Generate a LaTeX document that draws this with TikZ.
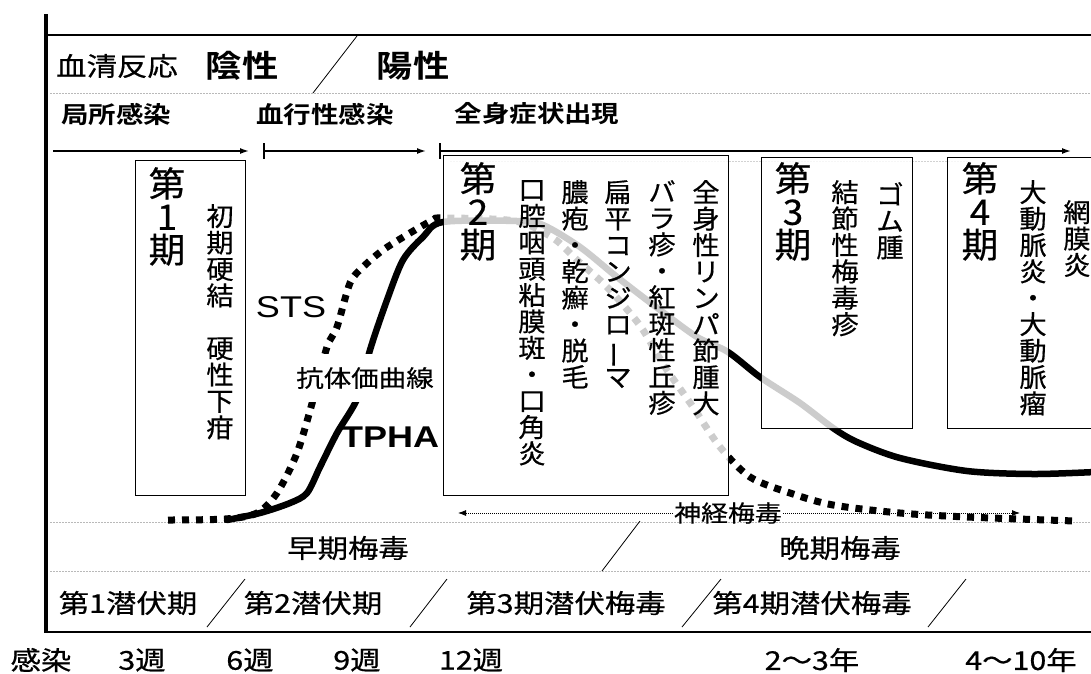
\documentclass[tikz,border=0pt]{standalone}
\usepackage{fontspec}
\usepackage{graphicx}
\usetikzlibrary{arrows.meta}
\setmainfont{Liberation Sans}
\newfontfamily\jp{Noto Sans CJK JP}[FakeStretch=1.17, FakeBold=0.5]
\newfontfamily\jpb{Noto Sans CJK JP Bold}[FakeStretch=1.17]
\newfontfamily\jpv{Noto Sans CJK JP}[FakeStretch=1.05, FakeBold=0.5]
\newfontfamily\lat{Liberation Sans}[FakeStretch=1.2]
\newcommand{\vbar}{\rotatebox[origin=c]{90}{ー}}
\begin{document}
\begin{tikzpicture}[x=1pt,y=-1pt,
  lbl/.style={inner sep=0pt, font=\jp\fontsize{26}{28}\selectfont},
  head/.style={inner sep=0pt, font=\jpb\fontsize{23.5}{26}\selectfont},
  sero/.style={inner sep=0pt, font=\jpb\fontsize{31}{33}\selectfont},
  vt/.style={inner sep=0pt, anchor=north, align=center, font=\jpv\fontsize{26}{26.4}\selectfont},
  big/.style={inner sep=0pt, anchor=north, align=center, font=\jpv\fontsize{35}{33}\selectfont},
  stagebox/.style={draw, line width=1.1pt, fill=white, fill opacity=0.8, anchor=north west, inner sep=0pt},
  gline/.style={gray!55, line width=0.6pt, dash pattern=on 2pt off 1pt},
  stsline/.style={line width=7pt, dash pattern=on 7pt off 7pt},
  tphaline/.style={line width=6.5pt, line cap=round},
  phase/.style={line width=1.5pt, -{Latex[length=9pt,width=6pt]}},
  nerve/.style={line width=0.8pt, dash pattern=on 1pt off 1pt, -{Latex[length=8pt,width=6pt]}},
  slash/.style={line width=0.8pt}
]
\useasboundingbox[fill=white] (0,0) rectangle (1091,673);

% frame
\draw[line width=4pt] (46,14) -- (46,632);
\draw[line width=2pt] (46,35) -- (1091,35);
\draw[line width=2.5pt] (44,632) -- (1091,632);

% faint guide lines
\draw[gline] (50,93) -- (1091,93);
\draw[gline, gray!35] (450,161) -- (970,161);
\draw[gline] (50,522) -- (1091,522);
\draw[gline] (50,571) -- (1091,571);

% serum row
\node[lbl] (serum) at (117,66) {血清反応};
\node[sero] (neg) at (242,66) {陰性};
\node[sero] (pos) at (413,66) {陽性};
\coordinate (s1a) at (357,36);
\coordinate (s1b) at (313,93);
\draw[slash] (s1a) -- (s1b);

% infection phases
\node[head] (local) at (116,114) {局所感染};
\node[head] (blood) at (325,114) {血行性感染};
\node[head] (whole) at (537,114) {全身症状出現};
\coordinate (a0) at (53,151);
\coordinate (a1) at (249,151);
\coordinate (a2s) at (265,151);
\coordinate (a2e) at (426,151);
\coordinate (a3s) at (441,151);
\coordinate (a3e) at (1071,151);
\coordinate (t1a) at (264,143); \coordinate (t1b) at (264,159);
\coordinate (t2a) at (440,143); \coordinate (t2b) at (440,159);
\draw[phase] (a0) -- (a1);
\draw[phase] (a2s) -- (a2e);
\draw[phase] (a3s) -- (a3e);
\draw[line width=1.2pt] (t1a) -- (t1b);
\draw[line width=1.2pt] (t2a) -- (t2b);

% curves
\draw[tphaline] plot[smooth, tension=0.5] coordinates {
 (227,520) (260,513) (290,503) (307,493) (320,467) (337,433) (358,397)
 (370,350) (387,300) (403,260) (423,237) (443,222) (517,221) (543,225)
 (580,247) (617,277) (660,310) (697,337) (728,352) (760,377) (800,403)
 (833,428) (857,442) (900,458) (967,471) (1033,474) (1095,472)};
\draw[stsline] plot[smooth, tension=0.5] coordinates {
 (168,520) (225,519) (257,513) (277,493) (297,453) (313,400) (327,347)
 (337,327) (350,283) (363,267) (383,250) (410,233) (433,220) (443,218)
 (515,221) (553,238) (577,260) (603,283) (625,307) (643,330) (665,367)
 (693,407) (720,447) (750,477) (790,493) (833,505) (900,513) (967,517)
 (1075,521)};

% stage boxes
\node[stagebox, minimum width=110pt, minimum height=335pt] (b1) at (135,160) {};
\node[stagebox, minimum width=285pt, minimum height=340pt] (b2) at (443,155) {};
\node[stagebox, minimum width=151pt, minimum height=271pt] (b3) at (761,157) {};
\node[stagebox, minimum width=170pt, minimum height=271pt] (b4) at (947,157) {};

% stage 1
\node[big] (p1) at (167,167) {第\\1\\期};
\node[vt] (p1a) at (220,204) {初\\期\\硬\\結\\　\\硬\\性\\下\\疳};
% stage 2
\node[big] (p2) at (478,162) {第\\2\\期};
\node[vt] (p2a) at (706,180) {全\\身\\性\\リ\\ン\\パ\\節\\腫\\大};
\node[vt] (p2b) at (662,180) {バ\\ラ\\疹\\・\\紅\\斑\\性\\丘\\疹};
\node[vt] (p2c) at (618,180) {扁\\平\\コ\\ン\\ジ\\ロ\\\vbar\\マ};
\node[vt] (p2d) at (575,180) {膿\\疱\\・\\乾\\癬\\・\\脱\\毛};
\node[vt] (p2e) at (532,180) {口\\腔\\咽\\頭\\粘\\膜\\斑\\・\\口\\角\\炎};
% stage 3
\node[big] (p3) at (793,162) {第\\3\\期};
\node[vt] (p3a) at (845,180) {結\\節\\性\\梅\\毒\\疹};
\node[vt] (p3b) at (890,182) {ゴ\\ム\\腫};
% stage 4
\node[big] (p4) at (980,162) {第\\4\\期};
\node[vt] (p4a) at (1033,180) {大\\動\\脈\\炎\\・\\大\\動\\脈\\瘤};
\node[vt] (p4b) at (1077,200) {網\\膜\\炎};

% curve labels
\node[inner sep=0pt, font=\lat\fontsize{30}{32}\selectfont] (sts) at (291,307) {STS};
\node[fill=white, inner xsep=1pt, minimum height=48pt, font=\jp\fontsize{23.5}{26}\selectfont] (titer) at (365,378) {抗体価曲線};
\node[inner sep=0pt, font=\lat\bfseries\fontsize{30}{32}\selectfont] (tpha) at (390,437) {TPHA};

% neurosyphilis
\node[inner sep=1pt, font=\jp\fontsize{23}{25}\selectfont] (nerve) at (728,513) {神経梅毒};
\coordinate (nl) at (458,513);
\coordinate (nr) at (1020,513);
\draw[nerve] (nerve.west) -- (nl);
\draw[nerve] (nerve.east) -- (nr);

% early / late
\node[lbl] (early) at (348,548) {早期梅毒};
\node[lbl] (late) at (840,548) {晩期梅毒};
\coordinate (s2a) at (640,521);
\coordinate (s2b) at (602,571);
\draw[slash] (s2a) -- (s2b);

% latent periods
\node[lbl] (lat1) at (128,603) {第1潜伏期};
\node[lbl] (lat2) at (313,603) {第2潜伏期};
\node[lbl] (lat3) at (566,603) {第3期潜伏梅毒};
\node[lbl] (lat4) at (812,603) {第4期潜伏梅毒};
\coordinate (s3a) at (245,579); \coordinate (s3b) at (207,627);
\coordinate (s4a) at (447,579); \coordinate (s4b) at (410,627);
\coordinate (s5a) at (721,579); \coordinate (s5b) at (682,627);
\coordinate (s6a) at (966,579); \coordinate (s6b) at (928,627);
\draw[slash] (s3a) -- (s3b);
\draw[slash] (s4a) -- (s4b);
\draw[slash] (s5a) -- (s5b);
\draw[slash] (s6a) -- (s6b);

% time axis
\node[lbl] (t0) at (41,660) {感染};
\node[lbl] (t3) at (142,660) {3週};
\node[lbl] (t6) at (250,660) {6週};
\node[lbl] (t9) at (357,660) {9週};
\node[lbl] (t12) at (471,660) {12週};
\node[lbl] (ty1) at (812,660) {2〜3年};
\node[lbl] (ty2) at (1021,660) {4〜10年};
\end{tikzpicture}
\end{document}
